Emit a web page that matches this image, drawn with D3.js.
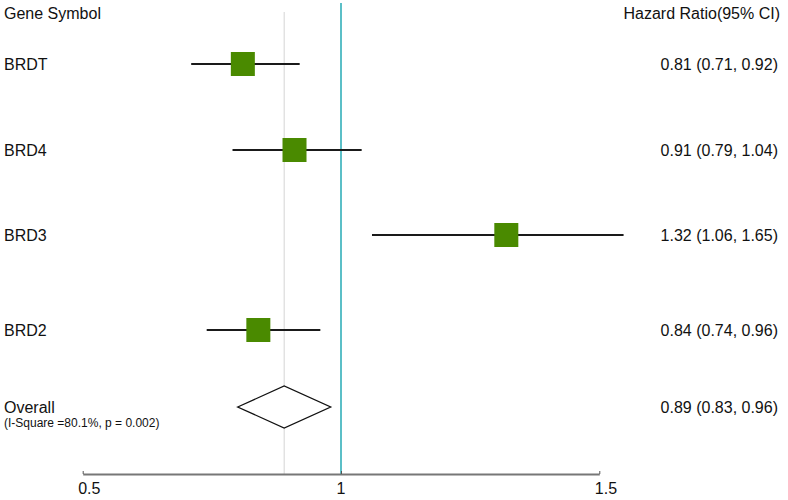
<!DOCTYPE html>
<html>
<head>
<meta charset="utf-8">
<script src="https://cdn.jsdelivr.net/npm/d3@7"></script>
<style>
  html, body { margin: 0; padding: 0; background: #fff; }
  svg { display: block; font-family: "Liberation Sans", Arial, sans-serif; }
</style>
</head>
<body>
<svg id="chart" width="788" height="500"></svg>
<script>
// ---- data ----
const genes = ["BRDT", "BRD4", "BRD3", "BRD2"];
const hr = [0.81, 0.91, 1.32, 0.84];
const ciLow = [0.71, 0.79, 1.06, 0.74];
const ciHigh = [0.92, 1.04, 1.65, 0.96];
const overallLabel = "Overall";
const overallNote = "(I-Square =80.1%, p = 0.002)";
const overallHR = 0.89;
const overallLow = 0.83;
const overallHigh = 0.96;
const overallDiamondLow = 0.80;   // diamond extent as drawn in the reference
const overallDiamondHigh = 0.98;
const xTicks = [0.5, 1, 1.5];
const xTickLabels = ["0.5", "1", "1.5"];
const ciClipMax = 1.547;          // CI lines are cut at the plot's right edge
const headerLeft = "Gene Symbol";
const headerRight = "Hazard Ratio(95% CI)";

// ---- layout ----
const svg = d3.select("#chart");
const axisY = 474;
const x = d3.scaleLinear().domain([0.5, 1.5]).range([82.7, 599.3]);
const rowNames = genes.concat([overallLabel]);
const y = d3.scaleOrdinal().domain(rowNames).range([64, 150, 235, 330, 407]);
const fmt = d3.format(".2f");

const rows = genes.map((g, i) => ({ gene: g, hr: hr[i], lo: ciLow[i], hi: ciHigh[i] }));

// reference lines
svg.append("line")
  .attr("x1", x(overallHR)).attr("x2", x(overallHR))
  .attr("y1", 12).attr("y2", axisY)
  .attr("stroke", "#d4d4d4").attr("stroke-width", 1);
svg.append("line")
  .attr("x1", x(1)).attr("x2", x(1))
  .attr("y1", 3).attr("y2", axisY)
  .attr("stroke", "#5bbfc7").attr("stroke-width", 2);

// headers
svg.append("text").attr("x", 4).attr("y", 19)
  .attr("font-size", 16).attr("fill", "#111").text(headerLeft);
svg.append("text").attr("x", 780).attr("y", 19).attr("text-anchor", "end")
  .attr("font-size", 16).attr("fill", "#111").text(headerRight);

// study rows
const g = svg.append("g");
g.selectAll("line.ci").data(rows).join("line")
  .attr("class", "ci")
  .attr("x1", d => x(d.lo)).attr("x2", d => x(Math.min(d.hi, ciClipMax)))
  .attr("y1", d => y(d.gene)).attr("y2", d => y(d.gene))
  .attr("stroke", "#1a1a1a").attr("stroke-width", 2);
const sq = 24;
g.selectAll("rect.est").data(rows).join("rect")
  .attr("class", "est")
  .attr("x", d => x(d.hr) - sq / 2).attr("y", d => y(d.gene) - sq / 2)
  .attr("width", sq).attr("height", sq)
  .attr("fill", "#4a8a00");
g.selectAll("text.name").data(rows).join("text")
  .attr("class", "name")
  .attr("x", 4).attr("y", d => y(d.gene) + 6)
  .attr("font-size", 16).attr("fill", "#111")
  .text(d => d.gene);
g.selectAll("text.val").data(rows).join("text")
  .attr("class", "val")
  .attr("x", 778).attr("y", d => y(d.gene) + 6).attr("text-anchor", "end")
  .attr("font-size", 16).attr("fill", "#111")
  .text(d => `${fmt(d.hr)} (${fmt(d.lo)}, ${fmt(d.hi)})`);

// overall
const oy = y(overallLabel);
const dh = 21;
svg.append("path")
  .attr("d", `M${x(overallDiamondLow)},${oy} L${x(overallHR)},${oy - dh} L${x(overallDiamondHigh)},${oy} L${x(overallHR)},${oy + dh} Z`)
  .attr("fill", "#fff").attr("stroke", "#111").attr("stroke-width", 1.3);
svg.append("text").attr("x", 4).attr("y", oy + 6)
  .attr("font-size", 16).attr("fill", "#111").text(overallLabel);
svg.append("text").attr("x", 4).attr("y", oy + 20)
  .attr("font-size", 12).attr("fill", "#111").text(overallNote);
svg.append("text").attr("x", 778).attr("y", oy + 6).attr("text-anchor", "end")
  .attr("font-size", 16).attr("fill", "#111")
  .text(`${fmt(overallHR)} (${fmt(overallLow)}, ${fmt(overallHigh)})`);

// axis
const axis = d3.axisBottom(x).tickValues(xTicks)
  .tickFormat((d, i) => xTickLabels[i])
  .tickSizeInner(-4).tickSizeOuter(0).tickPadding(9);
const ag = svg.append("g").attr("transform", `translate(0,${axisY})`).call(axis);
ag.select(".domain").attr("stroke", "#777").attr("stroke-width", 2);
ag.selectAll(".tick line").attr("stroke", "#555").attr("stroke-width", 1).attr("y2", 0).attr("y1", -3);
ag.selectAll(".tick text")
  .attr("font-size", 16).attr("font-family", "Liberation Sans, Arial, sans-serif")
  .attr("fill", "#111").attr("text-anchor", "start").attr("dx", -5);
</script>
</body>
</html>
